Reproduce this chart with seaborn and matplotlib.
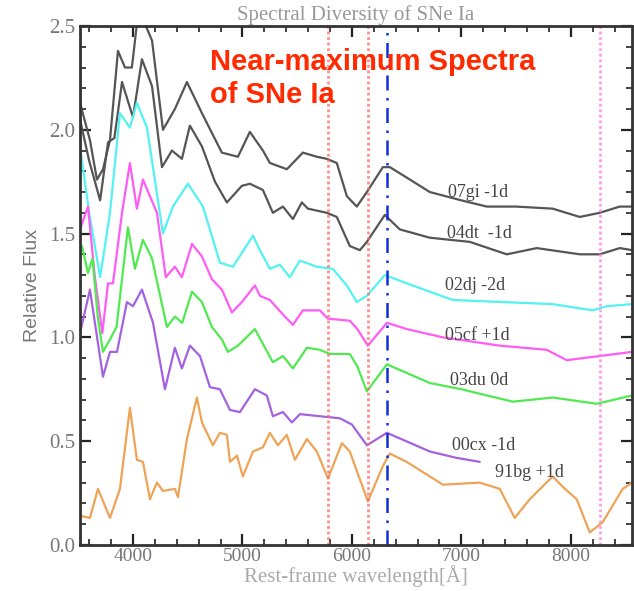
import numpy as np
import pandas as pd
import matplotlib
matplotlib.use("Agg")
import matplotlib.pyplot as plt
from matplotlib.ticker import MultipleLocator
import seaborn as sns

# spectra (rest wavelength [A], offset relative flux)
wl_07gi = [3516,3607,3671,3726,3790,3863,3927,3990,4036,4110,4174,4274,4383,4493,4630,4812,4959,5068,5187,5251,
           5406,5552,5680,5771,5862,5954,6045,6137,6283,6347,6500,6712,7000,7232,7500,7835,8082,8264,8447,8560]
fx_07gi = [2.13,1.95,1.76,1.81,1.95,2.38,2.30,2.30,2.51,2.51,2.43,2.00,2.10,2.23,2.08,1.89,1.87,1.99,1.90,1.84,
           1.81,1.89,1.87,1.86,1.84,1.68,1.63,1.70,1.82,1.82,1.77,1.70,1.66,1.63,1.63,1.62,1.58,1.60,1.63,1.63]

wl_04dt = [3516,3600,3700,3772,3830,3900,4000,4082,4174,4265,4356,4447,4520,4630,4749,4858,4995,5068,5187,5278,
           5370,5461,5543,5598,5771,5862,5981,6073,6137,6301,6438,6712,7077,7415,7689,8082,8264,8447,8560]
fx_04dt = [2.05,1.85,1.66,1.94,1.96,2.23,2.06,2.34,2.21,1.82,1.90,1.86,2.02,1.92,1.75,1.65,1.73,1.74,1.71,1.60,
           1.63,1.57,1.65,1.62,1.60,1.58,1.44,1.42,1.46,1.59,1.52,1.48,1.46,1.40,1.43,1.40,1.40,1.43,1.42]

wl_02dj = [3516,3600,3700,3790,3881,3972,4036,4128,4274,4365,4502,4639,4794,4913,5096,5160,5251,5342,5433,5525,
           5680,5826,5954,6045,6137,6301,6502,6712,6922,7378,7835,8200,8328,8560]
fx_02dj = [1.92,1.60,1.29,1.60,2.08,2.01,2.13,2.01,1.50,1.63,1.74,1.63,1.36,1.34,1.49,1.42,1.33,1.35,1.29,1.37,
           1.34,1.33,1.25,1.17,1.20,1.30,1.26,1.22,1.18,1.17,1.16,1.13,1.15,1.16]

wl_05cf = [3516,3589,3650,3720,3772,3817,3900,3972,4036,4091,4219,4300,4383,4447,4539,4630,4721,4812,4904,4995,
           5114,5160,5251,5370,5461,5552,5707,5781,5981,6050,6146,6320,6500,6831,7351,7780,7963,8264,8560]
fx_05cf = [1.52,1.63,1.30,1.02,1.26,1.26,1.60,1.84,1.62,1.76,1.60,1.29,1.34,1.29,1.45,1.39,1.28,1.23,1.12,1.17,
           1.25,1.20,1.18,1.11,1.06,1.13,1.13,1.09,1.08,1.04,0.96,1.07,1.04,1.00,0.96,0.94,0.89,0.91,0.93]

wl_03du = [3516,3534,3589,3630,3680,3726,3790,3850,3954,4018,4091,4174,4310,4383,4450,4539,4630,4721,4812,4867,
           4959,5114,5278,5370,5461,5589,5707,5799,5981,6050,6137,6320,6712,7000,7470,7835,8237,8560]
fx_03du = [1.42,1.44,1.31,1.38,1.09,0.93,0.99,1.05,1.53,1.33,1.47,1.38,1.05,1.10,1.07,1.22,1.17,1.05,0.99,0.93,
           0.96,1.04,0.88,0.91,0.85,0.95,0.94,0.92,0.92,0.86,0.74,0.87,0.78,0.75,0.69,0.71,0.68,0.72]

wl_00cx = [3516,3607,3726,3790,3854,3945,4000,4082,4183,4292,4383,4447,4520,4612,4703,4794,4886,4977,5114,5223,
           5278,5370,5452,5525,5707,5890,6000,6137,6320,6712,6950,7168]
fx_00cx = [1.02,1.23,0.81,0.93,0.93,1.17,1.15,1.23,1.07,0.75,0.95,0.85,0.96,0.91,0.76,0.75,0.65,0.64,0.75,0.72,
           0.62,0.64,0.59,0.63,0.62,0.61,0.58,0.48,0.54,0.45,0.42,0.40]

wl_91bg = [3516,3607,3680,3790,3881,3972,4036,4091,4155,4219,4274,4383,4411,4493,4584,4630,4730,4794,4858,4886,
           4950,5004,5096,5187,5251,5324,5406,5479,5589,5680,5781,5909,5981,6146,6283,6347,6500,6712,6831,7168,
           7351,7488,7625,7835,7926,8054,8173,8292,8474,8560]
fx_91bg = [0.14,0.13,0.27,0.13,0.27,0.66,0.41,0.40,0.22,0.30,0.26,0.27,0.23,0.51,0.71,0.59,0.48,0.54,0.53,0.40,
           0.43,0.33,0.45,0.47,0.54,0.48,0.53,0.41,0.51,0.45,0.32,0.49,0.45,0.21,0.38,0.44,0.40,0.33,0.29,0.30,
           0.27,0.13,0.22,0.33,0.28,0.22,0.06,0.11,0.27,0.30]

names = ["07gi -1d", "04dt  -1d", "02dj -2d", "05cf +1d", "03du 0d", "00cx -1d", "91bg +1d"]
label_wl = [6876, 6867, 6849, 6849, 6895, 6912, 7305]
label_fx = [1.70, 1.50, 1.25, 1.01, 0.79, 0.48, 0.35]
colors = ["#555555", "#555555", "#55f2f2", "#ff5cf5", "#50ea50", "#a462e0", "#eea456"]

red_lines = [5780, 6150]
pink_line = 8270
blue_line = 6320

wls = [wl_07gi, wl_04dt, wl_02dj, wl_05cf, wl_03du, wl_00cx, wl_91bg]
fxs = [fx_07gi, fx_04dt, fx_02dj, fx_05cf, fx_03du, fx_00cx, fx_91bg]
df = pd.concat([pd.DataFrame({"wl": w, "flux": f, "sn": n}) for w, f, n in zip(wls, fxs, names)])

sns.set_style("ticks")
plt.rcParams["font.family"] = ["Liberation Serif", "DejaVu Serif"]

fig = plt.figure(figsize=(6.34, 5.91), dpi=100)
ax = fig.add_axes([0.126, 0.078, 0.871, 0.878])

sns.lineplot(data=df, x="wl", y="flux", hue="sn", palette=colors, hue_order=names,
             linewidth=1.6, legend=False, ax=ax)
for ln in ax.lines:
    ln.set_solid_joinstyle("round")

for x in red_lines:
    ax.axvline(x, color="#ff6a6a", linestyle=(0, (1, 1)), linewidth=2.0, alpha=0.75)
ax.axvline(pink_line, color="#ff88d8", linestyle=(0, (1, 1)), linewidth=2.0, alpha=0.8)
ax.axvline(blue_line, color="#1030e0", linestyle=(0, (6, 3, 1, 3)), linewidth=1.8)

for n, x, y in zip(names, label_wl, label_fx):
    ax.text(x, y, n, fontsize=13, color="#444444", va="center", ha="left")

ax.set_xlim(3515, 8560)
ax.set_ylim(0, 2.5)
ax.xaxis.set_major_locator(MultipleLocator(1000))
ax.xaxis.set_minor_locator(MultipleLocator(200))
ax.yaxis.set_major_locator(MultipleLocator(0.5))
ax.yaxis.set_minor_locator(MultipleLocator(0.1))
ax.yaxis.set_major_formatter(matplotlib.ticker.FormatStrFormatter("%.1f"))
ax.tick_params(which="both", direction="in", top=True, right=True, colors="#222222",
               labelcolor="#777777", labelsize=15)
ax.tick_params(which="major", length=8, width=1.6)
ax.tick_params(which="minor", length=4, width=1.2)
ax.tick_params(axis="x", pad=2, labelsize=14)
for s in ax.spines.values():
    s.set_linewidth(2)
    s.set_color("#333333")

ax.set_xlabel("Rest-frame wavelength[Å]", fontsize=15, color="#aaaaaa", labelpad=0)
ax.set_ylabel("Relative Flux", fontsize=14, color="#777777", family=["Liberation Sans", "DejaVu Sans"],
              labelpad=6)
ax.set_title("Spectral Diversity of SNe Ia", fontsize=15, color="#999999", pad=4)

fig.text(0.331, 0.918, "Near-maximum Spectra\nof SNe Ia", fontsize=21, fontweight="bold",
         color="#ff2a00", family=["Liberation Sans", "DejaVu Sans"], va="top", ha="left",
         linespacing=1.2)

fig.savefig("out.png", dpi=100)
